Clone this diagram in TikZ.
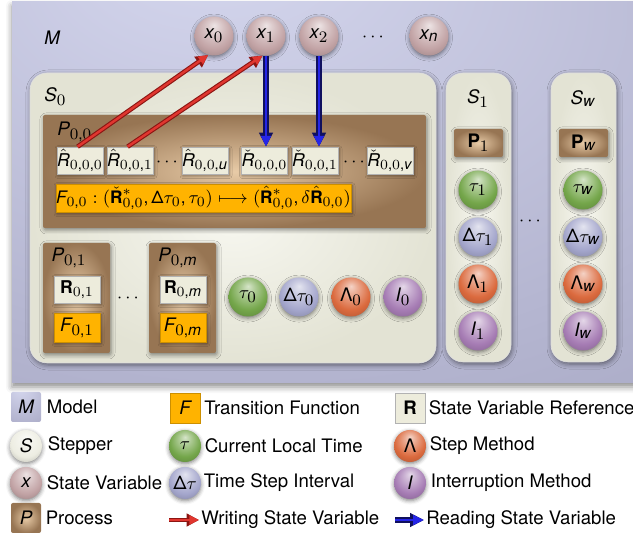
\documentclass[tikz,border=0pt]{standalone}
\usepackage{fontspec}
\setmainfont{TeX Gyre Heros}
\usepackage[italic]{mathastext}
\usepackage{tikz}
\usetikzlibrary{arrows.meta,positioning,shadows.blur}

\definecolor{modlight}{HTML}{D6D8EF}
\definecolor{modmid}{HTML}{B5B6D1}
\definecolor{moddark}{HTML}{8E8EAA}
\definecolor{stepin}{HTML}{F7F7F0}
\definecolor{stepout}{HTML}{E3E3D4}
\definecolor{procin}{HTML}{E8CBA7}
\definecolor{procout}{HTML}{977553}
\definecolor{refcol}{HTML}{EDECDC}
\definecolor{funcol}{HTML}{FFB300}
\definecolor{varcol}{HTML}{C2A3A5}
\definecolor{timecol}{HTML}{74A64A}
\definecolor{intervalcol}{HTML}{A4A6CC}
\definecolor{methodcol}{HTML}{DB6A3E}
\definecolor{interruptcol}{HTML}{A67CB4}
\definecolor{steppercol}{HTML}{EDEDE2}
\definecolor{writered}{HTML}{E0362F}
\definecolor{writedark}{HTML}{8C1512}
\definecolor{readblue}{HTML}{2525E8}
\definecolor{readdark}{HTML}{10105E}
\colorlet{ballbase}{varcol}

% light spot near the top of the model area
\pgfdeclareradialshading{modelglow}{\pgfpoint{-10bp}{35bp}}%
 {color(0bp)=(modlight); color(40bp)=(modmid); color(90bp)=(moddark)}
% glossy sphere, lit from above
\pgfdeclareradialshading[ballbase]{sphere}{\pgfpoint{0bp}{14bp}}%
 {color(0bp)=(ballbase!30!white); color(8bp)=(ballbase!55!white);
  color(24bp)=(ballbase); color(40bp)=(ballbase!75!black); color(50bp)=(ballbase!45!black)}

\newcommand{\sDelta}{\mbox{Δ}}
\newcommand{\sLambda}{\mbox{Λ}}

\tikzset{
 tag/.style={inner sep=0pt},
 model panel/.style={shading=modelglow,inner sep=0pt,
   blur shadow={shadow xshift=0pt,shadow yshift=-2pt,shadow blur radius=3pt,shadow opacity=45}},
 stepper panel/.style={rounded corners=8.5pt,inner color=stepin,outer color=stepout,
   draw=black!12,line width=.3pt,inner sep=0pt,
   blur shadow={shadow xshift=.5pt,shadow yshift=-1pt,shadow blur radius=2.5pt,shadow opacity=50}},
 proc box/.style={rounded corners=1pt,inner color=procin,outer color=procout,inner sep=0pt,
   blur shadow={shadow xshift=.5pt,shadow yshift=-1pt,shadow blur radius=2pt,shadow opacity=45}},
 ref box/.style={fill=refcol,draw=black!30,line width=.3pt,minimum width=23pt,
   minimum height=13.5pt,inner sep=0pt,font=\fontsize{8.8}{10}\selectfont,
   blur shadow={shadow xshift=.5pt,shadow yshift=-.8pt,shadow blur radius=1.5pt,shadow opacity=45}},
 fun box/.style={fill=funcol,draw=funcol!80!black,line width=.3pt,minimum height=14pt,
   inner sep=0pt,
   blur shadow={shadow xshift=.5pt,shadow yshift=-.8pt,shadow blur radius=1.5pt,shadow opacity=45}},
 var ball/.style={circle,/utils/exec={\colorlet{ballbase}{#1}},shading=sphere,
   minimum size=19.5pt,inner sep=0pt,
   blur shadow={shadow xshift=0pt,shadow yshift=-.8pt,shadow blur radius=2pt,shadow opacity=50}},
 key ball/.style={var ball=#1,minimum size=16pt},
 key box/.style={minimum size=15pt,inner sep=0pt,rounded corners=1pt},
 key text/.style={inner sep=0pt,anchor=west},
 write arrow/.style={draw=writered,line width=1.2pt,
   -{Triangle[length=4.8pt,width=4.4pt]},
   preaction={draw=writedark,line width=2.3pt,-{Triangle[length=6.2pt,width=6.2pt]}}},
 read arrow/.style={draw=readblue,line width=1.4pt,
   -{Triangle[length=5.4pt,width=4.8pt]},
   preaction={draw=readdark,line width=2.7pt,-{Triangle[length=7pt,width=6.6pt]}}}
}

\begin{document}
\begin{tikzpicture}[x=.5pt,y=-.5pt,font=\fontsize{9.3}{11}\selectfont]
\useasboundingbox (0,0) rectangle (633,539);
\clip (0,0) rectangle (633,539);

% model with its state variables
\node[model panel,minimum width=318pt,minimum height=190.5pt] (m) at (330,192.5) {};
\node[tag,anchor=west] (mlabel) at (44,38) {$M$};
\node[var ball=varcol] (x0) at (214,36) {$x_0$};
\node[var ball=varcol] (x1) at (266,36) {$x_1$};
\node[var ball=varcol] (x2) at (319,36) {$x_2$};
\node (xdots) at (373,37) {$\cdots$};
\node[var ball=varcol] (xn) at (429,36) {$x_n$};

% first stepper
\node[stepper panel,minimum width=203pt,minimum height=145pt] (s0) at (233,218) {};
\node[tag,anchor=west] (s0label) at (44,97) {$S_0$};
\node[proc box,minimum width=191.5pt,minimum height=56.5pt] (p00) at (234.5,171.5) {};
\node[tag,anchor=west] (p00label) at (57,132) {$P_{0,0}$};
\node[ref box] (rh0) at (80,160.5) {$\hat{R}_{0,0,0}$};
\node[ref box] (rh1) at (130,160.5) {$\hat{R}_{0,0,1}$};
\node (rhdots) at (167,162) {$\cdots$};
\node[ref box] (rhu) at (205,160.5) {$\hat{R}_{0,0,u}$};
\node[ref box] (rc0) at (264.5,160.5) {$\check{R}_{0,0,0}$};
\node[ref box] (rc1) at (315,160.5) {$\check{R}_{0,0,1}$};
\node (rcdots) at (354,162) {$\cdots$};
\node[ref box] (rcv) at (390,160.5) {$\check{R}_{0,0,v}$};
\node[fun box,minimum width=147.5pt,font=\fontsize{8.6}{10}\selectfont] (f00) at (203.5,198)
 {$F_{0,0}:(\check{\mathbf{R}}^{*}_{0,0},\sDelta\tau_0,\tau_0)\longmapsto
   (\hat{\mathbf{R}}^{*}_{0,0},\delta\hat{\mathbf{R}}_{0,0})$};

\node[proc box,minimum width=33.5pt,minimum height=55pt] (p01) at (76.5,298) {};
\node[tag] (p01label) at (69,258) {$P_{0,1}$};
\node[ref box] (r01) at (77,289.5) {$\mathbf{R}_{0,1}$};
\node[fun box,minimum width=23pt,minimum height=14.5pt] (f01) at (77,327.5) {$F_{0,1}$};
\node (pdots) at (128,298) {$\cdots$};
\node[proc box,minimum width=33.5pt,minimum height=55pt] (p0m) at (182.5,298) {};
\node[tag] (p0mlabel) at (178,258) {$P_{0,m}$};
\node[ref box] (r0m) at (183,289.5) {$\mathbf{R}_{0,m}$};
\node[fun box,minimum width=23pt,minimum height=14.5pt] (f0m) at (183,327.5) {$F_{0,m}$};

\node[var ball=timecol] (tau0) at (248,297) {$\tau_0$};
\node[var ball=intervalcol] (dtau0) at (299,297) {$\sDelta\tau_0$};
\node[var ball=methodcol] (lam0) at (351,297) {$\sLambda_0$};
\node[var ball=interruptcol] (int0) at (403,297) {$I_0$};

% the other steppers
\node[stepper panel,minimum width=32.5pt,minimum height=144.5pt] (s1) at (478.5,217.5) {};
\node[tag] (s1label) at (478,99) {$S_1$};
\node[proc box,minimum width=24.5pt,minimum height=14pt] (p1) at (478.5,143) {$\mathbf{P}_1$};
\node[var ball=timecol] (tau1) at (478,190) {$\tau_1$};
\node[var ball=intervalcol] (dtau1) at (478,237) {$\sDelta\tau_1$};
\node[var ball=methodcol] (lam1) at (478,284) {$\sLambda_1$};
\node[var ball=interruptcol] (int1) at (478,331) {$I_1$};

\node (sdots) at (530,221) {$\cdots$};

\node[stepper panel,minimum width=32.5pt,minimum height=144.5pt] (sw) at (583.5,217.5) {};
\node[tag] (swlabel) at (583,99) {$S_w$};
\node[proc box,minimum width=24.5pt,minimum height=14pt] (pw) at (583.5,143) {$\mathbf{P}_w$};
\node[var ball=timecol] (tauw) at (583,190) {$\tau_w$};
\node[var ball=intervalcol] (dtauw) at (583,237) {$\sDelta\tau_w$};
\node[var ball=methodcol] (lamw) at (583,284) {$\sLambda_w$};
\node[var ball=interruptcol] (intw) at (583,331) {$I_w$};

% writing and reading
\draw[write arrow] (rh0.100) -- (x0.-107);
\draw[write arrow] (rh1.100) -- (x1.-100);
\draw[read arrow] (x1.south) -- (x1.south |- rc0.north);
\draw[read arrow] (x2.south) -- (x2.south |- rc1.north);

% legend
\node[key box,shading=modelglow] (keym) at (26,407) {$M$};
\node[key text,right=2.5pt of keym] {Model};
\node[key ball=steppercol] (keys) at (26,446) {$S$};
\node[key text,right=2.5pt of keys] {Stepper};
\node[key ball=varcol] (keyx) at (26,483) {$x$};
\node[key text,right=2pt of keyx] {State Variable};
\node[key box,inner color=procin,outer color=procout] (keyp) at (26,518) {$P$};
\node[key text,right=2pt of keyp] {Process};

\node[key box,fill=funcol,draw=funcol!80!black,rounded corners=0pt] (keyf) at (185,408) {$F$};
\node[key text,right=1.75pt of keyf] {Transition Function};
\node[key ball=timecol] (keytau) at (185,446) {$\tau$};
\node[key text,right=1.5pt of keytau] {Current Local Time};
\node[key ball=intervalcol] (keydtau) at (185,483) {$\sDelta\tau$};
\node[key text,right=1pt of keydtau] {Time Step Interval};
\coordinate (keyw0) at (169,520);
\coordinate (keyw1) at (199,520);
\draw[write arrow] (keyw0) -- (keyw1);
\node[key text,right=1pt of keyw1] {Writing State Variable};

\node[key box,fill=refcol,draw=black!30,rounded corners=0pt] (keyr) at (410,408) {$\mathbf{R}$};
\node[key text,right=1.5pt of keyr] {State Variable Reference};
\node[key ball=methodcol] (keylam) at (410,446) {$\sLambda$};
\node[key text,right=1.5pt of keylam] {Step Method};
\node[key ball=interruptcol] (keyint) at (410,483) {$I$};
\node[key text,right=2pt of keyint] {Interruption Method};
\coordinate (keyr0) at (395,520);
\coordinate (keyr1) at (424,520);
\draw[read arrow] (keyr0) -- (keyr1);
\node[key text,right=1pt of keyr1] {Reading State Variable};
\end{tikzpicture}
\end{document}
